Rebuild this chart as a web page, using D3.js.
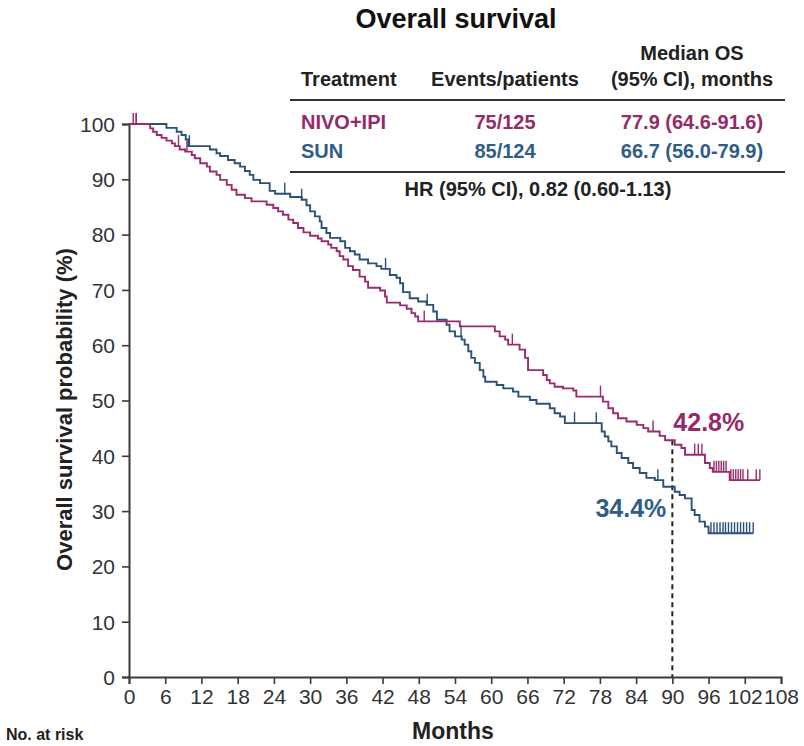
<!DOCTYPE html>
<html>
<head>
<meta charset="utf-8">
<script src="https://cdn.jsdelivr.net/npm/d3@7/dist/d3.min.js"></script>
<style>
  html, body { margin: 0; padding: 0; background: #fff; }
  svg { display: block; font-family: "Liberation Sans", Arial, sans-serif; }
</style>
</head>
<body>
<svg id="chart" width="804" height="746"></svg>
<script>
// Kaplan-Meier overall survival, NIVO+IPI vs SUN

const xTicks = [0, 6, 12, 18, 24, 30, 36, 42, 48, 54, 60, 66, 72, 78, 84, 90, 96, 102, 108];
const yTicks = [0, 10, 20, 30, 40, 50, 60, 70, 80, 90, 100];

// NIVO+IPI: event times (months) and survival (%) after each step
const nivoTimes = [0, 3.5, 4.0, 4.6, 5.4, 6.2, 7.1, 7.6, 8.4, 9.3, 10.4, 10.9, 11.8, 12.9, 13.4, 14.5, 15.1, 16.2, 17.0, 17.8,
  19.2, 20.3, 22.8, 23.9, 24.7, 25.5, 26.4, 27.2, 28.0, 28.9, 30.0, 31.3, 31.9, 33.0, 33.5, 34.4, 34.9, 35.5, 36.3, 37.1,
  38.2, 39.1, 39.6, 41.6, 42.4, 42.7, 44.9, 46.0, 46.8, 47.4, 47.9, 54.8, 60.6, 61.4, 62.3, 62.8, 64.7, 65.6, 66.1, 68.6,
  69.2, 69.7, 70.5, 71.9, 73.6, 74.1, 78.5, 79.4, 80.2, 81.0, 82.4, 84.1, 85.2, 86.0, 87.9, 88.8, 90.4, 91.5, 92.1, 95.4,
  96.2, 96.7, 99.5];
const nivoSurv = [100, 99.2, 98.6, 98.0, 97.5, 97.0, 96.5, 96.0, 95.4, 95.0, 94.4, 93.8, 92.9, 92.3, 91.4, 90.8, 89.9, 89.0, 88.1, 87.2,
  86.6, 86.0, 85.4, 84.8, 84.2, 83.6, 82.7, 82.1, 81.2, 80.4, 79.8, 79.3, 78.8, 78.2, 77.6, 77.0, 76.1, 75.5, 74.3, 73.6,
  72.4, 71.5, 70.4, 69.9, 68.8, 67.7, 67.2, 66.6, 65.8, 65.2, 64.3, 63.4, 62.5, 61.6, 61.0, 60.1, 59.2, 57.7, 55.5, 54.6,
  53.7, 53.1, 52.5, 52.2, 51.8, 50.7, 49.8, 48.6, 47.7, 46.8, 46.2, 45.6, 45.0, 44.4, 43.6, 42.8, 42.0, 41.4, 40.2, 38.7,
  37.8, 37.1, 35.6];
const nivoEnd = 104.5;
const nivoCensor = [0.7, 1.2, 8.2, 9.6, 48.9, 63.5, 78.1, 86.8, 93.7, 94.3, 94.9, 96.9, 97.3, 97.7, 98.1, 98.5, 98.9,
  99.7, 100.1, 100.5, 100.9, 101.3, 101.7, 102.5, 103.9, 104.5];

// SUN: event times (months) and survival (%) after each step
const sunTimes = [0, 6.2, 7.9, 8.7, 9.4, 9.8, 13.4, 14.5, 15.1, 16.4, 17.5, 18.4, 19.2, 20.0, 20.6, 21.7, 23.3, 24.2, 26.7, 28.6,
  29.4, 30.0, 30.8, 31.6, 31.9, 32.7, 33.3, 35.0, 35.8, 36.6, 37.4, 38.2, 39.6, 41.0, 41.8, 43.2, 44.3, 44.9, 45.4, 46.5,
  47.9, 49.3, 50.4, 51.0, 52.6, 53.1, 54.0, 55.1, 55.6, 56.2, 56.7, 57.3, 58.1, 58.7, 59.0, 60.9, 62.0, 63.6, 64.5, 66.4,
  67.5, 69.7, 70.5, 71.4, 72.2, 78.3, 78.8, 79.4, 79.9, 80.8, 81.6, 82.7, 83.5, 84.6, 85.7, 87.1, 88.5, 90.4, 91.2, 92.1,
  93.2, 93.7, 94.5, 95.4, 96.0];
const sunSurv = [100, 99.3, 98.6, 98.0, 97.2, 96.0, 95.4, 94.7, 94.2, 93.5, 92.9, 92.3, 91.5, 90.8, 89.9, 89.3, 87.9, 87.4, 86.8, 86.3,
  85.3, 84.2, 83.3, 82.4, 81.2, 80.3, 79.4, 78.8, 77.6, 77.0, 76.4, 75.5, 74.8, 74.3, 73.8, 72.7, 72.2, 71.2, 69.6, 68.5,
  67.9, 67.3, 66.1, 64.6, 63.7, 62.5, 61.6, 61.0, 60.1, 58.9, 57.7, 56.8, 55.5, 54.3, 53.4, 52.8, 52.2, 51.6, 50.7, 50.1,
  49.4, 48.6, 47.7, 47.1, 45.9, 44.4, 43.5, 42.6, 41.7, 40.5, 39.6, 38.7, 37.8, 36.9, 36.0, 35.6, 34.4, 33.5, 32.9, 32.3,
  30.2, 29.3, 28.1, 27.2, 26.0];
const sunEnd = 103.4;
const sunCensor = [1.2, 10.0, 25.8, 28.6, 42.5, 49.4, 55.0, 73.8, 77.4, 87.6, 96.4, 96.9, 97.4, 97.9, 98.4, 98.8, 99.3,
  99.8, 100.3, 100.8, 101.3, 101.8, 102.3, 102.8, 103.4];

// Summary table
const tableHeaders = ["Treatment", "Events/patients", "(95% CI), months"];
const treatments = ["NIVO+IPI", "SUN"];
const eventsPatients = ["75/125", "85/124"];
const medianOS = ["77.9 (64.6-91.6)", "66.7 (56.0-79.9)"];
const hrText = "HR (95% CI), 0.82 (0.60-1.13)";

// Landmark at 90 months
const landmarkMonth = 90;
const landmarkNivo = 42.8;
const landmarkSun = 34.4;

const NIVO_COLOR = "#9a2b6c";
const SUN_COLOR = "#2c5177";
const NIVO_TEXT = "#962a68";
const SUN_TEXT = "#2f5d88";
const AXIS_COLOR = "#3a3a3a";
const FONT = "'Liberation Sans', Arial, sans-serif";

const svg = d3.select("#chart");

const x = d3.scaleLinear().domain([0, 108]).range([129, 781]);
const y = d3.scaleLinear().domain([0, 100]).range([677, 124]);

// Axes
const xAxis = svg.append("g")
  .attr("transform", `translate(0,${y(0)})`)
  .call(d3.axisBottom(x).tickValues(xTicks).tickSize(7).tickPadding(5).tickFormat(d3.format("d")));
const yAxis = svg.append("g")
  .attr("transform", `translate(${x(0)},0)`)
  .call(d3.axisLeft(y).tickValues(yTicks).tickSize(7).tickPadding(7).tickFormat(d3.format("d")));

[xAxis, yAxis].forEach(g => {
  g.select(".domain").attr("stroke", AXIS_COLOR).attr("stroke-width", 2);
  g.selectAll(".tick line").attr("stroke", AXIS_COLOR).attr("stroke-width", 1.6);
  g.selectAll(".tick text")
    .attr("fill", "#333")
    .style("font-size", "21px")
    .style("font-family", FONT);
});
yAxis.selectAll(".tick text").attr("dy", "0.35em");

// Axis titles
svg.append("text")
  .attr("transform", `translate(72,${(y(0) + y(100)) / 2 + 9}) rotate(-90)`)
  .attr("text-anchor", "middle")
  .attr("font-weight", "bold")
  .attr("font-size", 22)
  .attr("fill", "#222")
  .text("Overall survival probability (%)");

svg.append("text")
  .attr("x", 453).attr("y", 739)
  .attr("text-anchor", "middle")
  .attr("font-weight", "bold")
  .attr("font-size", 23)
  .attr("fill", "#222")
  .text("Months");

svg.append("text")
  .attr("x", 6).attr("y", 740)
  .attr("font-weight", "bold")
  .attr("font-size", 16)
  .attr("fill", "#222")
  .text("No. at risk");

// Dashed landmark line at 90 months
svg.append("line")
  .attr("x1", x(landmarkMonth)).attr("x2", x(landmarkMonth))
  .attr("y1", y(landmarkNivo)).attr("y2", y(0))
  .attr("stroke", "#222")
  .attr("stroke-width", 2)
  .attr("stroke-dasharray", "5,4");

// Survival curves
const stepLine = d3.line()
  .x(d => x(d[0]))
  .y(d => y(d[1]))
  .curve(d3.curveStepAfter);

function seriesPoints(times, surv, end) {
  const pts = times.map((t, i) => [t, surv[i]]);
  pts.push([end, surv[surv.length - 1]]);
  return pts;
}

function levelAt(times, surv, t) {
  const i = d3.bisectRight(times, t) - 1;
  return surv[Math.max(0, i)];
}

const series = [
  { times: sunTimes, surv: sunSurv, end: sunEnd, censor: sunCensor, color: SUN_COLOR },
  { times: nivoTimes, surv: nivoSurv, end: nivoEnd, censor: nivoCensor, color: NIVO_COLOR }
];

series.forEach(s => {
  svg.append("path")
    .datum(seriesPoints(s.times, s.surv, s.end))
    .attr("fill", "none")
    .attr("stroke", s.color)
    .attr("stroke-width", 1.9)
    .attr("d", stepLine);

  svg.append("g")
    .selectAll("line")
    .data(s.censor)
    .join("line")
    .attr("x1", d => x(d)).attr("x2", d => x(d))
    .attr("y1", d => y(levelAt(s.times, s.surv, d)))
    .attr("y2", d => y(levelAt(s.times, s.surv, d)) - 11)
    .attr("stroke", s.color)
    .attr("stroke-width", 1.4);
});

// Landmark labels
svg.append("text")
  .attr("x", x(landmarkMonth) + 1).attr("y", 431)
  .attr("font-weight", "bold").attr("font-size", 25)
  .attr("fill", NIVO_TEXT)
  .text(landmarkNivo.toFixed(1) + "%");

svg.append("text")
  .attr("x", x(landmarkMonth) - 6).attr("y", 517)
  .attr("text-anchor", "end")
  .attr("font-weight", "bold").attr("font-size", 25)
  .attr("fill", SUN_TEXT)
  .text(landmarkSun.toFixed(1) + "%");

// Title and summary table
svg.append("text")
  .attr("x", 456).attr("y", 28)
  .attr("text-anchor", "middle")
  .attr("font-weight", "bold").attr("font-size", 27)
  .attr("fill", "#111")
  .text("Overall survival");

const colX = [301, 505, 692];
const colAnchor = ["start", "middle", "middle"];
const TABLE_FONT = 20;

svg.append("text")
  .attr("x", colX[2]).attr("y", 60)
  .attr("text-anchor", "middle")
  .attr("font-weight", "bold").attr("font-size", TABLE_FONT)
  .attr("fill", "#222")
  .text("Median OS");

tableHeaders.forEach((h, i) => {
  svg.append("text")
    .attr("x", colX[i]).attr("y", 86)
    .attr("text-anchor", colAnchor[i])
    .attr("font-weight", "bold").attr("font-size", TABLE_FONT)
    .attr("fill", "#222")
    .text(h);
});

svg.append("line")
  .attr("x1", 290).attr("x2", 785).attr("y1", 100).attr("y2", 100)
  .attr("stroke", "#333").attr("stroke-width", 2.2);

const rowColors = [NIVO_TEXT, SUN_TEXT];
treatments.forEach((t, r) => {
  const rowY = 128.5 + r * 29.5;
  [t, eventsPatients[r], medianOS[r]].forEach((v, i) => {
    svg.append("text")
      .attr("x", colX[i]).attr("y", rowY)
      .attr("text-anchor", colAnchor[i])
      .attr("font-weight", "bold").attr("font-size", TABLE_FONT)
      .attr("fill", rowColors[r])
      .text(v);
  });
});

svg.append("line")
  .attr("x1", 290).attr("x2", 785).attr("y1", 172).attr("y2", 172)
  .attr("stroke", "#333").attr("stroke-width", 2.2);

svg.append("text")
  .attr("x", 538).attr("y", 196)
  .attr("text-anchor", "middle")
  .attr("font-weight", "bold").attr("font-size", TABLE_FONT)
  .attr("fill", "#222")
  .text(hrText);
</script>
</body>
</html>
